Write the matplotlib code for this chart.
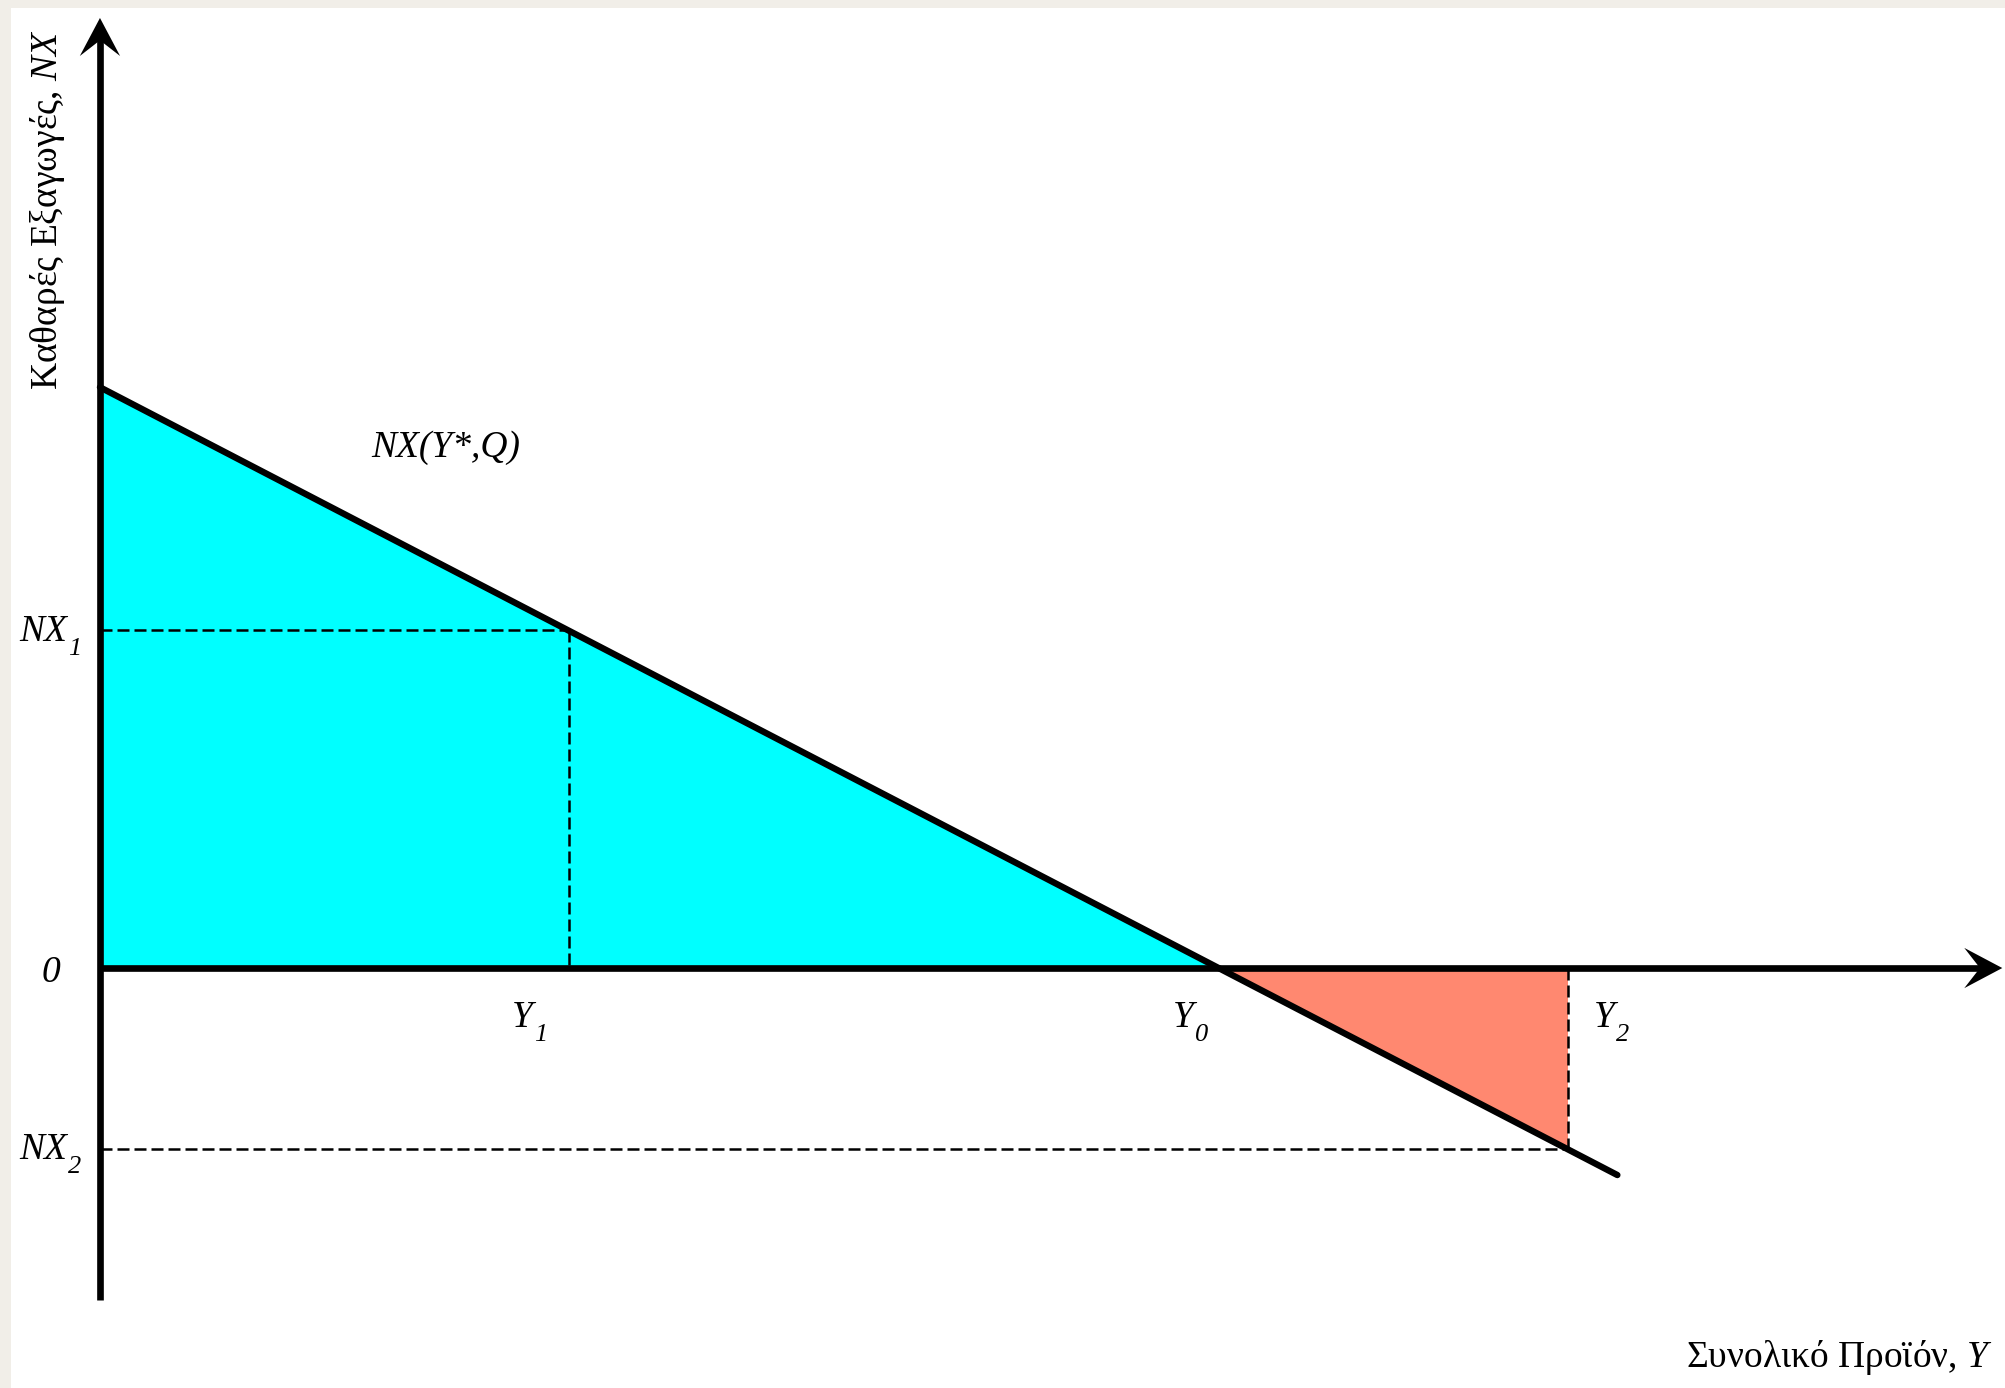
import matplotlib
matplotlib.use("Agg")
import matplotlib.pyplot as plt
from matplotlib.patches import Polygon

plt.rcParams['font.family'] = ['Liberation Serif', 'DejaVu Serif']
plt.rcParams['mathtext.fontset'] = 'custom'
plt.rcParams['mathtext.rm'] = 'Liberation Serif'
plt.rcParams['mathtext.it'] = 'Liberation Serif:italic'
plt.rcParams['mathtext.bf'] = 'Liberation Serif:bold'

# ---- data (arbitrary units, Y0 = 10) ----
curve_y = [0.0, 13.56]          # output Y at ends of NX line
curve_nx = [5.19, -1.85]        # net exports at those ends
point_names = ['Y1', 'Y0', 'Y2']
point_y = [4.19, 10.0, 13.12]   # output levels
point_nx = [3.02, 0.0, -1.62]   # NX at those levels
x_tick_main = ['Y', 'Y', 'Y']
x_tick_sub = ['1', '0', '2']
y_tick_main = ['NX', '0', 'NX']
y_tick_sub = ['1', '', '2']
y_tick_values = [3.02, 0.0, -1.62]
curve_label = 'NX(Y*,Q)'
xlabel = 'Συνολικό Προϊόν, $Y$'
ylabel = 'Καθαρές Εξαγωγές, $NX$'
axis_x_max = 17.0
axis_y_min, axis_y_max = -2.97, 8.49

W, H = 2005, 1388
fig = plt.figure(figsize=(W / 100, H / 100), dpi=100, facecolor='#f1eee8')
ax = fig.add_axes([11 / W, 0, 1 - 11 / W, 1 - 8 / H])
ax.set_facecolor('white')
for s in ax.spines.values():
    s.set_visible(False)
ax.set_xticks([])
ax.set_yticks([])
ax.set_xlim(-0.795, 17.024)
ax.set_ylim(-3.753, 8.579)

Y1, Y0, Y2 = point_y
NX1, NX0, NX2 = point_nx

# fills
ax.fill([0, 0, Y0], [0, curve_nx[0], 0], color='#00ffff', lw=0, zorder=1)
ax.fill([Y0, Y2, Y2], [0, 0, NX2], color='#ff8870', lw=0, zorder=1)

# dashed guide lines
dash_kw = dict(color='black', lw=1.8, dashes=(4.8, 2.0), zorder=2)
ax.plot([0, Y1], [NX1, NX1], **dash_kw)
ax.plot([Y1, Y1], [NX1, 0], **dash_kw)
ax.plot([0, Y2], [NX2, NX2], **dash_kw)
ax.plot([Y2, Y2], [0, NX2], **dash_kw)

# NX line
ax.plot(curve_y, curve_nx, color='black', lw=4.6, solid_capstyle='round', zorder=3)

# axes with stealth arrowheads
L, HW, NOTCH = 0.34, 0.18, 0.20
ax.plot([0, axis_x_max - NOTCH + 0.02], [0, 0], color='black', lw=4.8,
        solid_capstyle='butt', zorder=4)
ax.plot([0, 0], [axis_y_min, axis_y_max - NOTCH + 0.02], color='black', lw=4.8,
        solid_capstyle='butt', zorder=4)
ax.add_patch(Polygon([[axis_x_max, 0], [axis_x_max - L, HW],
                      [axis_x_max - NOTCH, 0], [axis_x_max - L, -HW]],
                     closed=True, color='black', lw=0, zorder=5))
ax.add_patch(Polygon([[0, axis_y_max], [HW, axis_y_max - L],
                      [0, axis_y_max - NOTCH], [-HW, axis_y_max - L]],
                     closed=True, color='black', lw=0, zorder=5))

fs = 27
fs_sub = 19
renderer = fig.canvas.get_renderer()
inv = ax.transData.inverted()
px = 1 / 111.9  # data units per pixel


def sub_label(x, y, main, sub):
    t = ax.text(x, y, main, fontsize=fs, style='italic', ha='left',
                va='baseline', zorder=6)
    if sub:
        bb = t.get_window_extent(renderer=renderer)
        xe = inv.transform((bb.x1, bb.y0))[0]
        ax.text(xe + 1 * px, y - 14 * px, sub, fontsize=fs_sub, style='italic',
                ha='left', va='baseline', zorder=6)


# x point labels
x_offsets = [-0.51, -0.41, 0.23]
for yv, m, sb, off in zip(point_y, x_tick_main, x_tick_sub, x_offsets):
    sub_label(yv + off, -0.527, m, sb)

# y labels
y_lab_x = [-0.724, -0.52, -0.724]
y_lab_off = [-0.10, -0.125, -0.09]
for v, m, sb, xx, off in zip(y_tick_values, y_tick_main, y_tick_sub, y_lab_x, y_lab_off):
    sub_label(xx, v + off, m, sb)

# curve label
ax.text(3.09, 4.57, curve_label, fontsize=fs, style='italic', ha='center',
        va='baseline', zorder=6)

# axis titles
ax.text(16.91, -3.566, xlabel, fontsize=fs, ha='right', va='baseline', zorder=6)
ax.text(-0.384, 6.774, ylabel, fontsize=fs, rotation=90, rotation_mode='anchor',
        ha='center', va='baseline', zorder=6)

fig.savefig('out.png', dpi=100, facecolor=fig.get_facecolor())
